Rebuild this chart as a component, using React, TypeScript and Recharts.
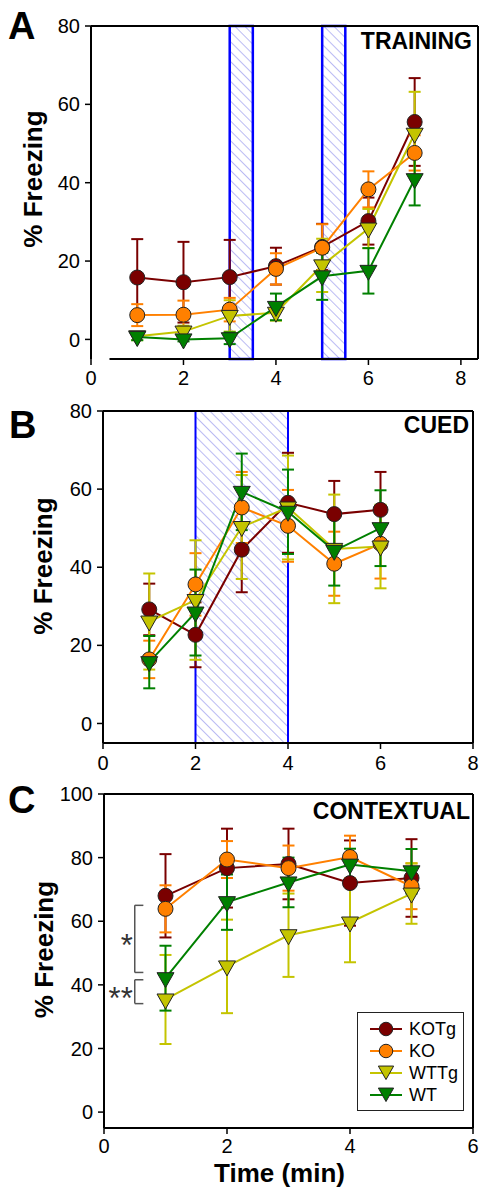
import React from 'react';
import {
  LineChart,
  Line,
  XAxis,
  YAxis,
  ErrorBar,
  ReferenceArea,
  ReferenceLine,
  ReferenceDot,
  Legend,
} from 'recharts';

const FONT = '"Liberation Sans", Arial, Helvetica, sans-serif';

// A - training
const trainingTime = [1, 2, 3, 4, 5, 6, 7];
const trainingKOTg = [15.8, 14.6, 15.9, 18.7, 23.6, 30.2, 55.5];
const trainingKOTgErr = [9.8, 10.3, 9.5, 4.7, 5.9, 6.0, 11.2];
const trainingKO = [6.2, 6.3, 7.6, 18.0, 23.4, 38.3, 47.6];
const trainingKOErr = [2.8, 3.6, 3.0, 4.0, 6.0, 4.6, 4.5];
const trainingWTTg = [0.8, 2.0, 6.0, 6.8, 18.9, 28.3, 52.5];
const trainingWTTgErr = [1.0, 1.5, 4.0, 2.0, 6.8, 5.0, 10.7];
const trainingWT = [0.6, 0.0, 0.3, 8.3, 16.1, 17.5, 40.9];
const trainingWTErr = [0.8, 0.5, 1.5, 3.4, 6.0, 5.8, 6.7];
const trainingShocks = [
  [3, 3.5],
  [5, 5.5],
];

// B - cued
const cuedTime = [1, 2, 3, 4, 5, 6];
const cuedKOTg = [29.2, 22.7, 44.5, 56.5, 53.6, 54.7];
const cuedKOTgErr = [6.6, 8.3, 10.9, 12.8, 8.5, 9.7];
const cuedKO = [16.4, 35.6, 55.3, 50.6, 40.9, 46.0];
const cuedKOErr = [4.8, 8.0, 9.1, 9.2, 8.2, 8.9];
const cuedWTTg = [26.1, 31.6, 50.3, 55.3, 44.7, 45.3];
const cuedWTTgErr = [12.3, 15.3, 13.3, 13.3, 13.9, 10.7];
const cuedWT = [15.7, 28.4, 59.3, 54.2, 44.2, 50.0];
const cuedWTErr = [6.7, 11.0, 9.8, 10.8, 8.9, 9.7];
const cuedTone = [2, 4];

// C - contextual
const contextTime = [1, 2, 3, 4, 5];
const contextKOTg = [68.0, 76.7, 78.0, 72.0, 73.6];
const contextKOTgErr = [13.1, 12.4, 11.1, 13.4, 12.2];
const contextKO = [63.9, 79.4, 76.7, 80.2, 71.0];
const contextKOErr = [7.4, 5.8, 7.1, 6.7, 7.2];
const contextWTTg = [35.4, 45.8, 55.6, 59.6, 68.7];
const contextWTTgErr = [14.0, 14.7, 13.1, 12.5, 9.5];
const contextWT = [42.1, 66.0, 72.2, 77.8, 75.7];
const contextWTErr = [10.2, 8.7, 7.8, 5.0, 7.0];
const contextSig = [
  { top: 65, bottom: 43.9, label: '*' },
  { top: 41.6, bottom: 34.1, label: '**' },
];

const groups = [
  { key: 'kotg', name: 'KOTg', color: '#7a0000', shape: 'circle' },
  { key: 'ko', name: 'KO', color: '#ff8000', shape: 'circle' },
  { key: 'wttg', name: 'WTTg', color: '#c4c400', shape: 'triangle' },
  { key: 'wt', name: 'WT', color: '#008000', shape: 'triangle' },
];

type Vals = Record<string, number[]>;

function buildRows(time: number[], vals: Vals, errs: Vals) {
  return time.map((t, i) => {
    const row: Record<string, number> = { t };
    groups.forEach((g) => {
      row[g.key] = vals[g.key][i];
      row[g.key + 'Err'] = errs[g.key][i];
    });
    return row;
  });
}

const trainingRows = buildRows(
  trainingTime,
  { kotg: trainingKOTg, ko: trainingKO, wttg: trainingWTTg, wt: trainingWT },
  { kotg: trainingKOTgErr, ko: trainingKOErr, wttg: trainingWTTgErr, wt: trainingWTErr }
);
const cuedRows = buildRows(
  cuedTime,
  { kotg: cuedKOTg, ko: cuedKO, wttg: cuedWTTg, wt: cuedWT },
  { kotg: cuedKOTgErr, ko: cuedKOErr, wttg: cuedWTTgErr, wt: cuedWTErr }
);
const contextRows = buildRows(
  contextTime,
  { kotg: contextKOTg, ko: contextKO, wttg: contextWTTg, wt: contextWT },
  { kotg: contextKOTgErr, ko: contextKOErr, wttg: contextWTTgErr, wt: contextWTErr }
);

const Marker = ({ cx, cy, shape, fill, s = 1 }: any) => {
  if (cx == null || cy == null) return null;
  if (shape === 'circle') {
    return <circle cx={cx} cy={cy} r={7.5 * s} fill={fill} stroke="#222" strokeWidth={1} />;
  }
  const w = 8.5 * s;
  return (
    <polygon
      points={`${cx - w},${cy - 5.5 * s} ${cx + w},${cy - 5.5 * s} ${cx},${cy + 9.5 * s}`}
      fill={fill}
      stroke="#222"
      strokeWidth={1}
    />
  );
};

const renderSeries = (prefix: string) =>
  groups.map((g) => (
    <Line
      key={g.key}
      type="linear"
      dataKey={g.key}
      name={g.name}
      stroke={g.color}
      strokeWidth={2}
      isAnimationActive={false}
      activeDot={false}
      dot={(p: any) => (
        <Marker key={`${prefix}-${g.key}-${p.index}`} cx={p.cx} cy={p.cy} shape={g.shape} fill={g.color} />
      )}
    >
      <ErrorBar
        dataKey={`${g.key}Err`}
        width={6}
        strokeWidth={2}
        stroke={g.color}
        direction="y"
        isAnimationActive={false}
      />
    </Line>
  ));

const tickStyle = { fontSize: 20, fill: '#000', fontFamily: FONT };
const axisLine = { stroke: '#000', strokeWidth: 2 };
const tickLine = { stroke: '#000', strokeWidth: 1.5 };

const yLabel = (dx: number, dy: number) => ({
  value: '% Freezing',
  content: (props: any) => {
    const vb = props.viewBox;
    const cx = vb.x + vb.width / 2 + dx;
    const cy = vb.y + vb.height / 2 + dy;
    return (
      <text
        x={cx}
        y={cy}
        transform={`rotate(-90 ${cx} ${cy})`}
        textAnchor="middle"
        dominantBaseline="central"
        fontSize={26}
        fontWeight="bold"
        fontFamily={FONT}
        fill="#000"
      >
        % Freezing
      </text>
    );
  },
});

const hatch = (id: string) => (
  <defs>
    <pattern id={id} width={7} height={7} patternUnits="userSpaceOnUse" patternTransform="rotate(-45)">
      <line x1={0} y1={0} x2={0} y2={7} stroke="#7878e8" strokeWidth={1} />
    </pattern>
  </defs>
);

const LegendBox = () => (
  <div
    style={{
      border: '1.5px solid #222',
      background: '#fff',
      width: 107,
      height: 99,
      boxSizing: 'border-box',
      paddingTop: 5,
      fontFamily: FONT,
    }}
  >
    {groups.map((g) => (
      <div key={g.key} style={{ display: 'flex', alignItems: 'center', height: 22 }}>
        <svg width={50} height={22} style={{ display: 'block' }}>
          <line x1={12} x2={44} y1={11} y2={11} stroke={g.color} strokeWidth={2} />
          <Marker cx={28} cy={g.shape === 'circle' ? 11 : 9} shape={g.shape} fill={g.color} s={0.9} />
        </svg>
        <span style={{ fontSize: 18, color: '#000', marginLeft: 1 }}>{g.name}</span>
      </div>
    ))}
  </div>
);

const App = () => {
  const aMaxX = 8.37;
  return (
    <div style={{ position: 'absolute', left: 0, top: 0, width: 480, height: 1193, background: '#fff' }}>
      {/* A */}
      <div style={{ position: 'absolute', left: 0, top: 0 }}>
        <LineChart width={480} height={400} data={trainingRows} margin={{ top: 26, right: 2, bottom: 11, left: 0 }}>
          {hatch('hatchA')}
          <XAxis
            dataKey="t"
            type="number"
            domain={[0, aMaxX]}
            ticks={[0, 2, 4, 6, 8]}
            interval={0}
            allowDataOverflow
            height={30}
            axisLine={false}
            tickLine={tickLine}
            tickSize={6}
            tickMargin={6}
            tick={tickStyle}
          />
          <YAxis
            type="number"
            domain={[-5, 80]}
            ticks={[0, 20, 40, 60, 80]}
            interval={0}
            allowDataOverflow
            width={91}
            axisLine={axisLine}
            tickLine={tickLine}
            tickSize={6}
            tickMargin={5}
            tick={tickStyle}
            label={yLabel(-12.5, -13.5)}
          />
          {trainingShocks.map(([a, b]) => (
            <ReferenceArea key={a} x1={a} x2={b} fill="url(#hatchA)" fillOpacity={1} stroke="#0000ff" strokeWidth={2.5} />
          ))}
          <ReferenceLine y={80} stroke="#000" strokeWidth={2} />
          <ReferenceLine x={aMaxX} stroke="#000" strokeWidth={2} />
          <ReferenceLine
            segment={[
              { x: 0.4, y: -5 },
              { x: aMaxX, y: -5 },
            ]}
            stroke="#000"
            strokeWidth={2}
          />
          {renderSeries('a')}
        </LineChart>
      </div>

      {/* B */}
      <div style={{ position: 'absolute', left: 0, top: 390 }}>
        <LineChart width={480} height={400} data={cuedRows} margin={{ top: 21, right: 7, bottom: 17, left: 0 }}>
          {hatch('hatchB')}
          <XAxis
            dataKey="t"
            type="number"
            domain={[0, 8]}
            ticks={[0, 2, 4, 6, 8]}
            interval={0}
            allowDataOverflow
            height={30}
            axisLine={axisLine}
            tickLine={tickLine}
            tickSize={6}
            tickMargin={7}
            tick={tickStyle}
          />
          <YAxis
            type="number"
            domain={[-5, 80]}
            ticks={[0, 20, 40, 60, 80]}
            interval={0}
            allowDataOverflow
            width={103}
            axisLine={axisLine}
            tickLine={tickLine}
            tickSize={6}
            tickMargin={5}
            tick={tickStyle}
            label={yLabel(-8.5, -11)}
          />
          <ReferenceArea
            x1={cuedTone[0]}
            x2={cuedTone[1]}
            fill="url(#hatchB)"
            fillOpacity={1}
            stroke="#0000ff"
            strokeWidth={2}
          />
          <ReferenceLine y={80} stroke="#000" strokeWidth={2} />
          <ReferenceLine x={8} stroke="#000" strokeWidth={2} />
          {renderSeries('b')}
        </LineChart>
      </div>

      {/* C */}
      <div style={{ position: 'absolute', left: 0, top: 760 }}>
        <LineChart width={480} height={433} data={contextRows} margin={{ top: 34, right: 7, bottom: 5, left: 0 }}>
          <XAxis
            dataKey="t"
            type="number"
            domain={[0, 6]}
            ticks={[0, 2, 4, 6]}
            interval={0}
            allowDataOverflow
            height={60}
            axisLine={axisLine}
            tickLine={tickLine}
            tickSize={6}
            tickMargin={5}
            tick={tickStyle}
            label={{
              value: 'Time (min)',
              content: (props: any) => {
                const vb = props.viewBox;
                return (
                  <text
                    x={vb.x + vb.width / 2 - 9}
                    y={vb.y + 54}
                    textAnchor="middle"
                    fontSize={26}
                    fontWeight="bold"
                    fontFamily={FONT}
                    fill="#000"
                  >
                    Time (min)
                  </text>
                );
              },
            }}
          />
          <YAxis
            type="number"
            domain={[-5, 100]}
            ticks={[0, 20, 40, 60, 80, 100]}
            interval={0}
            allowDataOverflow
            width={104}
            axisLine={axisLine}
            tickLine={tickLine}
            tickSize={6}
            tickMargin={5}
            tick={tickStyle}
            label={yLabel(-8, -11.5)}
          />
          <ReferenceLine y={100} stroke="#000" strokeWidth={2} />
          <ReferenceLine x={6} stroke="#000" strokeWidth={2} />
          {contextSig.map((s) => [
            <ReferenceLine
              key={`v${s.label}`}
              segment={[
                { x: 0.5, y: s.top },
                { x: 0.5, y: s.bottom },
              ]}
              stroke="#555"
              strokeWidth={1.5}
            />,
            <ReferenceLine
              key={`t${s.label}`}
              segment={[
                { x: 0.5, y: s.top },
                { x: 0.64, y: s.top },
              ]}
              stroke="#555"
              strokeWidth={1.5}
            />,
            <ReferenceLine
              key={`b${s.label}`}
              segment={[
                { x: 0.5, y: s.bottom },
                { x: 0.64, y: s.bottom },
              ]}
              stroke="#555"
              strokeWidth={1.5}
            />,
            <ReferenceDot
              key={`d${s.label}`}
              x={0.5}
              y={(s.top + s.bottom) / 2}
              r={1}
              fill="none"
              stroke="none"
              label={{
                value: s.label,
                content: (props: any) => {
                  const vb = props.viewBox;
                  const cx = vb.x + vb.width / 2;
                  const cy = vb.y + vb.height / 2;
                  return (
                    <text x={cx - 2} y={cy + 17} textAnchor="end" fontSize={31} fontFamily={FONT} fill="#333">
                      {s.label}
                    </text>
                  );
                },
              }}
            />,
          ])}
          {renderSeries('c')}
          <Legend
            layout="vertical"
            align="center"
            verticalAlign="middle"
            content={() => <LegendBox />}
            wrapperStyle={{ position: 'absolute', left: 357, top: 252, width: 107, height: 99 }}
          />
        </LineChart>
      </div>

      {/* panel letters and titles */}
      <svg
        width={480}
        height={1193}
        style={{ position: 'absolute', left: 0, top: 0, pointerEvents: 'none' }}
        fontFamily={FONT}
        fontWeight="bold"
      >
        <text x={8} y={39} fontSize={38}>A</text>
        <text x={9} y={438} fontSize={38}>B</text>
        <text x={8} y={813} fontSize={38}>C</text>
        <text x={472} y={49} fontSize={23} textAnchor="end">TRAINING</text>
        <text x={469} y={433} fontSize={23} textAnchor="end">CUED</text>
        <text x={470} y={819} fontSize={23} textAnchor="end">CONTEXTUAL</text>
      </svg>
    </div>
  );
};

export default App;
